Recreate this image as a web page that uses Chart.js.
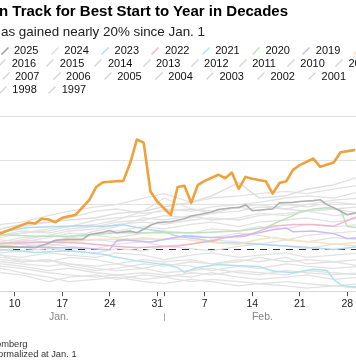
<!DOCTYPE html>
<html>
<head>
<meta charset="utf-8">
<script src="https://cdn.jsdelivr.net/npm/chart.js@4.4.1/dist/chart.umd.min.js"></script>
<style>
html,body{margin:0;padding:0;background:#fff;width:356px;height:364px;overflow:hidden;}
body{position:relative;font-family:"Liberation Sans",Arial,Helvetica,sans-serif;color:#111;}
#c{position:absolute;left:0;top:0;}
.t{position:absolute;white-space:nowrap;line-height:1;}
#title{left:-1px;top:3px;font-size:15px;font-weight:bold;color:#000;}
#subtitle{left:1px;top:24.5px;font-size:13.4px;color:#222;}
.lg{position:absolute;white-space:nowrap;line-height:1;font-size:11px;color:#111;}
.sw{position:absolute;}
.foot{position:absolute;white-space:nowrap;line-height:1;font-size:9.3px;color:#333;}
</style>
</head>
<body>
<canvas id="c" width="356" height="364"></canvas>
<div class="t" id="title">n Track for Best Start to Year in Decades</div>
<div class="t" id="subtitle">as gained nearly 20% since Jan. 1</div>
<div id="legend"></div>
<div class="foot" style="left:-4px;top:339.5px;">omberg</div>
<div class="foot" style="left:-2px;top:349.8px;">ormalized at Jan. 1</div>
<script>
// ---------- DATA ----------
// x = day of year (Jan. 1 = 1), y = % change since Jan. 1
const DAYS_2026 = [1, 7, 12, 13, 14, 15, 16, 17, 19, 21, 22, 23, 25, 26, 27, 28, 29, 30, 31, 33, 34, 35, 36, 37, 38, 40, 41, 42, 43, 44, 45, 47, 48, 49, 50, 51, 52, 54, 55, 57, 58, 60];
const VALS_2026 = [0, 2.9, 5.9, 5.7, 6.8, 6.6, 6.0, 7.0, 7.7, 11.1, 14.0, 15.1, 15.3, 15.4, 19.4, 24.8, 24.1, 13.0, 10.7, 7.6, 14.0, 14.3, 10.4, 14.5, 15.4, 16.8, 16.0, 17.3, 13.6, 16.3, 15.9, 15.3, 12.5, 14.9, 15.3, 17.9, 19.0, 20.5, 18.6, 19.6, 21.9, 22.4];

const DAYS_2025 = [1, 5, 8, 11, 13, 15, 16, 18, 20, 21, 23, 24, 25, 27, 28, 29, 30, 31, 33, 35, 36, 37, 39, 40, 42, 43, 44, 45, 47, 48, 49, 51, 52, 54, 55, 56, 57, 59, 60, 61];
const VALS_2025 = [0, 0.8, 0.5, 0.3, 0.2, 1.2, 1.9, 2.1, 2.1, 3.2, 3.7, 4.1, 3.6, 4.0, 3.6, 4.4, 5.3, 5.9, 6.1, 6.8, 7.4, 7.7, 8.3, 8.9, 9.3, 9.3, 10.0, 8.6, 8.9, 9.0, 10.4, 10.5, 10.7, 10.9, 11.1, 10.0, 9.3, 7.7, 8.1, 8.3];

const DAYS_2023 = [1, 5, 8, 12, 16, 20, 23, 26, 29, 32, 34, 37, 40, 43, 46, 50, 53, 57, 61];
const VALS_2023 = [0, 2.0, 3.8, 4.8, 5.0, 5.2, 5.0, 5.4, 4.5, 3.8, 2.8, 2.2, 1.4, 1.2, 1.0, 0.6, 0.3, -0.2, 0.5];

const DAYS_2022 = [1, 5, 8, 12, 16, 20, 25, 28, 31, 34, 39, 41, 44, 48, 51, 54, 57, 61];
const VALS_2022 = [0, 0.6, 1.2, 1.4, 1.5, 1.2, 0.5, 0.2, 0.4, 0.6, 1.7, 2.5, 2.8, 5.1, 5.5, 5.5, 5.1, 7.6];

const DAYS_2021 = [1, 5, 8, 13, 18, 23, 25, 28, 32, 34, 35, 37, 40, 43, 46, 48, 51, 54, 56, 57, 58, 59, 61];
const VALS_2021 = [0, -0.2, -0.2, -0.9, -0.5, -1.3, -2.0, -2.8, -3.6, -4.3, -5.4, -4.3, -3.6, -3.9, -4.1, -5.1, -5.5, -4.7, -5.0, -7.0, -8.2, -8.6, -8.8];

const DAYS_2020 = [1, 5, 8, 13, 18, 25, 28, 33, 37, 43, 47, 49, 51, 52, 54, 56, 57, 58, 59, 61];
const VALS_2020 = [0, 1.8, 3.2, 2.8, 2.8, 3.6, 3.6, 3.6, 3.6, 4.0, 4.8, 6.2, 7.5, 8.3, 9.0, 9.3, 9.2, 8.8, 5.0, 4.7];

const DAYS_2019 = [1, 5, 8, 12, 16, 20, 23, 24, 25, 26, 30, 35, 38, 41, 46, 48, 50, 51, 54, 57, 59, 61];
const VALS_2019 = [0, 0.4, 0.3, 0.4, 0.2, 0.1, -0.2, -0.2, 1.8, 2.0, 1.5, 2.9, 2.5, 2.5, 3.6, 4.3, 4.7, 3.8, 4.0, 3.4, 2.3, 2.5];

const DAYS_2018 = [1, 5, 8, 15, 20, 25, 31, 35, 39, 43, 46, 48, 50, 52, 55, 57, 61];
const VALS_2018 = [0, 0.6, 1.0, 1.5, 2.0, 2.2, 2.1, 2.1, 1.4, 1.0, 2.1, 2.5, 2.1, 1.7, 1.4, 1.0, 1.4];

// other years, sampled on a coarser set of days
const GRAY_DAYS = [1, 4, 8, 11, 15, 18, 22, 25, 29, 32, 36, 39, 43, 46, 50, 53, 57, 61];
const VALS_2024 = [0, 1.0, 4.5, 5.5, 6.0, 6.5, 7.0, 8.0, 8.5, 9.5, 10.5, 12.0, 15.0, 11.5, 12.0, 13.5, 14.5, 16.5];
const VALS_2017 = [0, 1.5, 5.5, 6.0, 7.5, 8.5, 9.5, 10.0, 11.5, 12.5, 10.5, 11.5, 12.0, 12.5, 13.0, 12.5, 13.5, 14.5];
const VALS_2016 = [0, 0.8, 3.0, 3.5, 4.5, 5.0, 6.5, 7.0, 7.5, 9.0, 8.5, 9.5, 10.0, 10.5, 11.5, 12.0, 11.5, 13.0];
const VALS_2015 = [0, 1.2, 3.0, 4.0, 3.5, 4.5, 5.0, 6.0, 6.5, 7.5, 7.0, 8.0, 8.5, 9.5, 9.0, 10.0, 11.0, 11.5];
const VALS_2014 = [0, 0.5, 1.5, 2.5, 3.0, 4.0, 4.5, 5.5, 6.0, 5.5, 6.5, 7.0, 6.5, 7.5, 8.0, 8.5, 9.0, 9.5];
const VALS_2013 = [0, 1.0, 2.0, 1.5, 2.5, 3.5, 3.0, 4.0, 5.0, 4.5, 5.5, 6.0, 5.0, 6.0, 6.5, 7.0, 6.0, 7.0];
const VALS_2012 = [0, 0.5, 1.0, 2.0, 1.5, 2.5, 3.0, 2.5, 3.5, 4.0, 3.5, 4.5, 4.0, 5.0, 4.5, 5.5, 5.0, 5.5];
const VALS_2011 = [0, -0.5, 0.5, 1.0, 0.5, 1.5, 2.0, 1.5, 2.5, 2.0, 3.0, 2.5, 3.5, 3.0, 2.0, 3.0, 3.5, 4.0];
const VALS_2010 = [0, 0.3, -0.5, 0.5, 1.0, 0.5, 0.0, 1.0, 1.5, 0.5, 1.0, 2.0, 1.5, 1.0, 2.0, 1.5, 2.5, 2.0];
const VALS_2009 = [0, -0.8, -1.0, -0.5, 0.0, -0.5, -1.0, 0.0, -0.5, 0.5, 0.0, -0.5, 0.5, 1.0, 0.5, 0.0, 1.0, 0.5];
const VALS_2008 = [0, -1.0, -1.5, -2.0, -1.0, -1.5, -2.0, -1.0, -1.5, -2.5, -1.5, -1.0, -2.0, -1.5, -1.0, -2.0, -1.5, -1.0];
const VALS_2007 = [0, -0.5, -2.0, -2.5, -3.0, -2.0, -2.5, -3.5, -2.5, -3.0, -2.5, -3.5, -3.0, -2.0, -3.0, -2.5, -3.0, -2.5];
const VALS_2006 = [0, -1.5, -2.5, -3.0, -2.5, -3.5, -4.0, -3.5, -4.5, -3.5, -4.0, -5.0, -4.0, -4.5, -3.5, -4.0, -4.5, -4.0];
const VALS_2005 = [0, -1.0, -3.0, -3.5, -4.0, -3.5, -4.5, -5.0, -4.5, -5.5, -5.0, -4.5, -5.5, -6.0, -5.0, -5.5, -6.0, -5.5];
const VALS_2004 = [0, -2.0, -3.5, -4.0, -5.0, -4.5, -5.5, -6.0, -5.5, -6.0, -6.5, -5.5, -6.5, -7.0, -6.5, -6.0, -7.0, -6.5];
const VALS_2003 = [0, -1.5, -4.0, -4.5, -5.5, -6.0, -6.5, -6.0, -7.0, -6.5, -7.5, -7.0, -7.5, -8.0, -7.5, -8.0, -8.5, -8.0];
const VALS_2002 = [0, -2.5, -4.5, -5.5, -6.5, -7.5, -7.0, -6.5, -7.5, -8.0, -7.0, -7.5, -8.5, -8.0, -8.5, -9.0, -8.5, -9.0];
const VALS_2001 = [0, -2.0, -5.5, -6.0, -7.5, -6.5, -6.0, -7.0, -6.0, -6.5, -5.5, -6.0, -5.0, -5.5, -6.0, -5.0, -5.5, -6.0];
const VALS_2000 = [0, 1.0, 3.5, 5.0, 6.0, 7.0, 8.5, 9.0, 8.0, 8.5, 9.0, 8.0, 9.5, 8.5, 10.0, 9.5, 10.5, 10.0];
const VALS_1999 = [0, 0.8, 2.5, 3.5, 4.0, 5.0, 5.5, 6.5, 8.5, 11.5, 9.0, 8.5, 9.5, 10.0, 9.0, 8.5, 9.0, 8.0];
const VALS_1998 = [0, -0.5, 1.0, 2.0, 3.0, 2.5, 4.0, 5.0, 7.0, 6.5, 7.5, 6.5, 7.0, 8.0, 7.5, 8.5, 7.5, 8.0];
const VALS_1997 = [0, -1.0, -1.5, -3.0, -2.5, -4.0, -5.0, -4.5, -3.5, -4.0, -3.0, -3.5, -2.5, -3.0, -2.0, -3.5, -3.0, -4.0];

const X_TICKS = [10, 17, 24, 31, 32, 38, 45, 52, 59];
const X_TICK_LABELS = ['10', '17', '24', '31', '', '7', '14', '21', '28'];
const MONTH_LABELS = ['Jan.', 'Feb.'];
const MONTH_CENTERS = [16.5, 46.5];
const MONTH_BREAKS = [32];
const Y_GRID = [10, 20, 30];
const BASELINE = 0;

const LEGEND_ROWS = [
  [2026, 2025, 2024, 2023, 2022, 2021, 2020, 2019, 2018],
  [2017, 2016, 2015, 2014, 2013, 2012, 2011, 2010, 2009],
  [2008, 2007, 2006, 2005, 2004, 2003, 2002, 2001, 2000],
  [1999, 1998, 1997]
];

// ---------- STYLE ----------
const GRAY = '#e2e2e2';
const STYLE = {
  2026: {color: '#f0a13a', width: 2.6},
  2025: {color: '#b0b0b0', width: 1.6, swatch: '#9a9a9a'},
  2024: {color: '#dedede', width: 1.4},
  2023: {color: '#b7d7f1', width: 1.5},
  2022: {color: '#f1b5cf', width: 1.5},
  2021: {color: '#b0e3ea', width: 1.5},
  2020: {color: '#bde2bd', width: 1.5},
  2019: {color: '#c9bbf4', width: 1.5},
  2018: {color: '#f5e4bc', width: 1.5}
};
function styleOf(y) { return STYLE[y] || {color: GRAY, width: 1.3}; }

const SERIES = [
  [2026, DAYS_2026, VALS_2026], [2025, DAYS_2025, VALS_2025],
  [2019, DAYS_2019, VALS_2019], [2022, DAYS_2022, VALS_2022],
  [2020, DAYS_2020, VALS_2020], [2018, DAYS_2018, VALS_2018],
  [2023, DAYS_2023, VALS_2023], [2021, DAYS_2021, VALS_2021],
  [2024, GRAY_DAYS, VALS_2024], [2017, GRAY_DAYS, VALS_2017], [2016, GRAY_DAYS, VALS_2016],
  [2015, GRAY_DAYS, VALS_2015], [2014, GRAY_DAYS, VALS_2014], [2013, GRAY_DAYS, VALS_2013],
  [2012, GRAY_DAYS, VALS_2012], [2011, GRAY_DAYS, VALS_2011], [2010, GRAY_DAYS, VALS_2010],
  [2009, GRAY_DAYS, VALS_2009], [2008, GRAY_DAYS, VALS_2008], [2007, GRAY_DAYS, VALS_2007],
  [2006, GRAY_DAYS, VALS_2006], [2005, GRAY_DAYS, VALS_2005], [2004, GRAY_DAYS, VALS_2004],
  [2003, GRAY_DAYS, VALS_2003], [2002, GRAY_DAYS, VALS_2002], [2001, GRAY_DAYS, VALS_2001],
  [2000, GRAY_DAYS, VALS_2000], [1999, GRAY_DAYS, VALS_1999], [1998, GRAY_DAYS, VALS_1998],
  [1997, GRAY_DAYS, VALS_1997]
];

const datasets = SERIES.map(([year, days, vals]) => {
  const s = styleOf(year);
  return {
    label: String(year),
    data: days.map((d, i) => ({x: d, y: vals[i]})),
    borderColor: s.color,
    borderWidth: s.width,
    pointRadius: 0,
    tension: 0,
    fill: false,
    borderJoinStyle: 'round',
    borderCapStyle: 'round'
  };
});

// ---------- LEGEND (HTML) ----------
const ROW_TEXT_START = [14, 11.7, 15, 12.3];
const ROW_STEP = [50.3, 48.1, 51.1, 49.4];
const ROW_CENTER = [50.5, 63.2, 76.3, 89.7];
const legendEl = document.getElementById('legend');
LEGEND_ROWS.forEach((row, r) => {
  row.forEach((year, i) => {
    const left = ROW_TEXT_START[r] + (i - 1) * ROW_STEP[r];
    const s = styleOf(year);
    const sw = document.createElementNS('http://www.w3.org/2000/svg', 'svg');
    sw.setAttribute('width', '8'); sw.setAttribute('height', '8');
    sw.setAttribute('class', 'sw');
    sw.style.left = (left - 13.5) + 'px';
    sw.style.top = (ROW_CENTER[r] - 4) + 'px';
    const ln = document.createElementNS('http://www.w3.org/2000/svg', 'line');
    ln.setAttribute('x1', '0.5'); ln.setAttribute('y1', '7.5');
    ln.setAttribute('x2', '7.5'); ln.setAttribute('y2', '0.5');
    ln.setAttribute('stroke', s.swatch || (s.color === GRAY ? '#d6d6d6' : s.color));
    ln.setAttribute('stroke-width', '1.4');
    sw.appendChild(ln);
    legendEl.appendChild(sw);
    const tx = document.createElement('div');
    tx.className = 'lg';
    tx.textContent = String(year);
    tx.style.left = left + 'px';
    tx.style.top = (ROW_CENTER[r] - 5.4) + 'px';
    legendEl.appendChild(tx);
  });
});

// ---------- PLUGINS ----------
const baselinePlugin = {
  id: 'baseline',
  beforeDatasetsDraw(chart) {
    const {ctx, chartArea, scales: {y}} = chart;
    const py = Math.round(y.getPixelForValue(BASELINE)) + 0.5;
    ctx.save();
    ctx.strokeStyle = '#333';
    ctx.lineWidth = 1;
    ctx.setLineDash([7, 6]);
    ctx.beginPath();
    ctx.moveTo(chartArea.left, py);
    ctx.lineTo(chartArea.right, py);
    ctx.stroke();
    ctx.restore();
  }
};
const monthPlugin = {
  id: 'months',
  afterDraw(chart) {
    const {ctx, chartArea, scales: {x}} = chart;
    const base = chartArea.bottom;
    ctx.save();
    ctx.font = '10.5px "Liberation Sans", Arial, sans-serif';
    ctx.fillStyle = '#858585';
    ctx.textAlign = 'center';
    ctx.textBaseline = 'middle';
    MONTH_LABELS.forEach((m, i) => ctx.fillText(m, x.getPixelForValue(MONTH_CENTERS[i]), base + 25.5));
    ctx.strokeStyle = '#aaa';
    ctx.lineWidth = 1;
    MONTH_BREAKS.forEach(d => {
      const px = Math.round(x.getPixelForValue(d)) + 0.5;
      ctx.beginPath();
      ctx.moveTo(px, base + 22);
      ctx.lineTo(px, base + 30);
      ctx.stroke();
    });
    ctx.restore();
  }
};

new Chart(document.getElementById('c'), {
  type: 'line',
  data: {datasets},
  options: {
    responsive: false,
    animation: false,
    devicePixelRatio: 1,
    layout: {padding: {top: 116.7, bottom: 52.2, left: 0, right: 0}},
    plugins: {legend: {display: false}, tooltip: {enabled: false}, title: {display: false}},
    scales: {
      x: {
        type: 'linear',
        min: 7.834,
        max: 60.28,
        afterBuildTicks: (axis) => { axis.ticks = X_TICKS.map(v => ({value: v})); },
        ticks: {
          autoSkip: false,
          maxRotation: 0,
          padding: 1.5,
          color: '#222',
          font: {family: '"Liberation Sans", Arial, sans-serif', size: 10.5},
          callback: (v) => X_TICK_LABELS[X_TICKS.indexOf(v)]
        },
        grid: {drawOnChartArea: false, drawTicks: true, tickLength: 5, tickColor: '#555', lineWidth: 1},
        border: {display: true, color: '#d8d8d8', width: 1}
      },
      y: {
        type: 'linear',
        position: 'right',
        min: -9.7,
        max: 30,
        afterBuildTicks: (axis) => { axis.ticks = Y_GRID.map(v => ({value: v})); },
        ticks: {display: false},
        grid: {color: '#e2e2e2', lineWidth: 1, drawTicks: false},
        border: {display: false}
      }
    }
  },
  plugins: [baselinePlugin, monthPlugin]
});
</script>
</body>
</html>
